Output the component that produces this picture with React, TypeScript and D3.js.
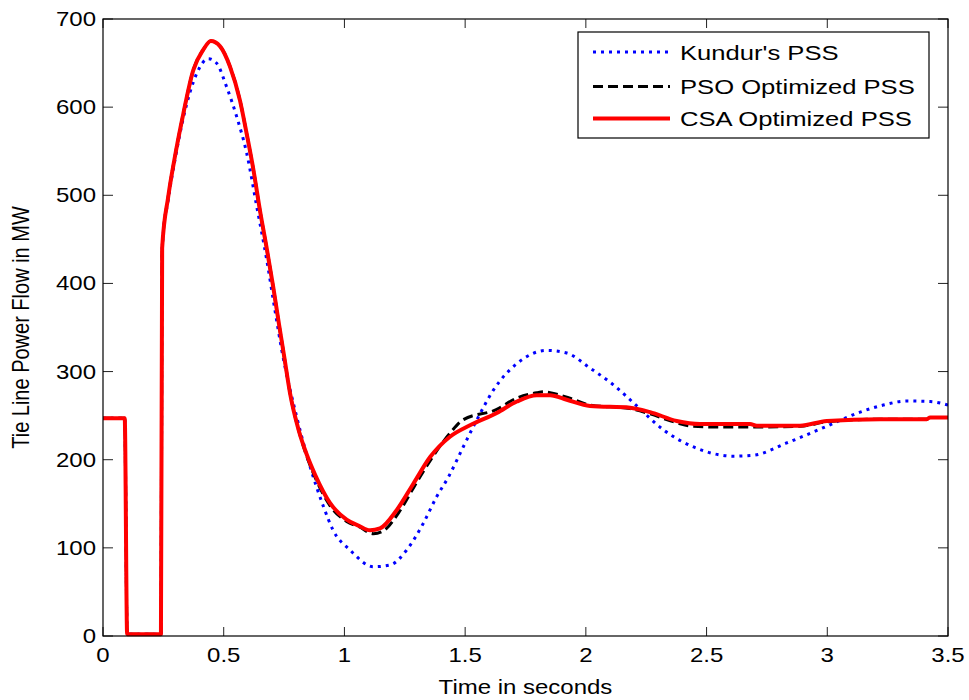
import React from "react";
import * as d3 from "d3";

// ---- data ----
const csaT = [0, 0.09, 0.1, 0.24, 0.245, 0.27, 0.298, 0.333, 0.374, 0.415, 0.447, 0.485, 0.526, 0.567, 0.595, 0.623, 0.65, 0.678, 0.705, 0.73, 0.75, 0.775, 0.81, 0.845, 0.88, 0.94, 1.009, 1.06, 1.106, 1.147, 1.217, 1.286, 1.355, 1.437, 1.52, 1.631, 1.714, 1.797, 1.852, 1.921, 2.017, 2.183, 2.266, 2.376, 2.473, 2.68, 2.708, 2.887, 2.998, 3.219, 3.412, 3.426, 3.5];
const csaV = [247, 247, 2, 2, 440, 498, 544, 593, 642, 665, 675, 669, 646, 608, 570, 529, 483, 440, 396, 352, 318, 275, 234, 205, 182, 151, 132, 125, 120, 122, 143, 173, 203, 226, 239, 253, 266, 273, 273, 268, 261, 259, 254, 244, 240.5, 240.5, 238.6, 238.6, 244, 246, 246, 248, 248];

const psoT = [0, 0.09, 0.1, 0.24, 0.245, 0.27, 0.298, 0.333, 0.374, 0.415, 0.447, 0.485, 0.526, 0.567, 0.595, 0.623, 0.65, 0.678, 0.705, 0.73, 0.75, 0.775, 0.81, 0.845, 0.88, 0.94, 1.009, 1.06, 1.12, 1.16, 1.225, 1.29, 1.36, 1.437, 1.49, 1.631, 1.714, 1.797, 1.824, 1.852, 1.921, 2.017, 2.183, 2.266, 2.376, 2.44, 2.55, 2.68, 2.887, 2.998, 3.219, 3.412, 3.426, 3.5];
const psoV = [247, 247, 2, 2, 440, 498, 544, 593, 642, 665, 675, 669, 646, 608, 570, 529, 483, 440, 396, 352, 318, 275, 234, 203, 179, 148, 130, 124, 116, 119, 140, 170, 201, 230, 245, 257, 270, 276, 277, 276, 271, 262, 258, 252, 242, 238, 237, 237, 238, 243, 246, 246, 248, 248];

const kunT = [0, 0.09, 0.1, 0.24, 0.245, 0.27, 0.298, 0.333, 0.388, 0.436, 0.47, 0.512, 0.554, 0.595, 0.637, 0.678, 0.712, 0.74, 0.802, 0.858, 0.913, 0.953, 1.023, 1.12, 1.19, 1.258, 1.327, 1.382, 1.43, 1.493, 1.548, 1.617, 1.714, 1.838, 1.921, 2.017, 2.114, 2.211, 2.321, 2.459, 2.611, 2.694, 2.832, 2.998, 3.136, 3.232, 3.329, 3.426, 3.5];
const kunV = [247, 247, 2, 2, 440, 495, 540, 588, 638, 655, 650, 623, 589, 548, 487, 427, 370, 325, 249, 192, 147, 120, 97.6, 78.6, 80.6, 97.6, 128, 158, 180, 215, 245, 279, 309, 324, 321, 304, 285, 261, 234, 213, 204, 205, 219, 238, 254, 262, 266.6, 266, 262];

const xTicks = [0, 0.5, 1, 1.5, 2, 2.5, 3, 3.5];
const xTickLabels = ["0", "0.5", "1", "1.5", "2", "2.5", "3", "3.5"];
const yTicks = [0, 100, 200, 300, 400, 500, 600, 700];
const yTickLabels = ["0", "100", "200", "300", "400", "500", "600", "700"];

const seriesNames = ["Kundur's PSS", "PSO Optimized PSS", "CSA Optimized PSS"];
const xTitle = "Time in seconds";
const yTitle = "Tie Line Power Flow in MW";

const W = 969;
const H = 700;
const L = 103, R = 948, T = 19, B = 636;
const FONT = "'Liberation Sans', Arial, Helvetica, sans-serif";
const SX = 1.2;

export default function App() {
  const x = d3.scaleLinear().domain([0, 3.5]).range([L, R]);
  const y = d3.scaleLinear().domain([0, 700]).range([B, T]);
  const line = d3
    .line<[number, number]>()
    .x((d) => x(d[0]))
    .y((d) => y(d[1]))
    .curve(d3.curveMonotoneX);

  const zip = (a: number[], b: number[]) => a.map((t, i) => [t, b[i]] as [number, number]);

  const series = [
    { name: seriesNames[0], d: line(zip(kunT, kunV)) || "", color: "#0000ff", w: 3, dash: "3,5" },
    { name: seriesNames[1], d: line(zip(psoT, psoV)) || "", color: "#000000", w: 3, dash: "10,5" },
    { name: seriesNames[2], d: line(zip(csaT, csaV)) || "", color: "#ff0000", w: 4, dash: undefined as string | undefined },
  ];

  const legendY = [52, 86.5, 118.5];

  return (
    <svg
      width={W}
      height={H}
      style={{ position: "absolute", left: 0, top: 0, background: "#fff" }}
      fontFamily={FONT}
    >
      <rect x={0} y={0} width={W} height={H} fill="#fff" />
      <defs>
        <clipPath id="plotclip">
          <rect x={L} y={T - 4} width={R - L} height={B - T + 8} />
        </clipPath>
      </defs>

      {/* ticks */}
      {xTicks.map((t, i) => (
        <g key={"xt" + i} stroke="#222" strokeWidth={1}>
          <line x1={x(t)} x2={x(t)} y1={B} y2={B - 9} />
          <line x1={x(t)} x2={x(t)} y1={T} y2={T + 9} />
        </g>
      ))}
      {yTicks.map((v, i) => (
        <g key={"yt" + i} stroke="#222" strokeWidth={1}>
          <line x1={L} x2={L + 10} y1={y(v)} y2={y(v)} />
          <line x1={R} x2={R - 10} y1={y(v)} y2={y(v)} />
        </g>
      ))}

      {/* data */}
      <g clipPath="url(#plotclip)" fill="none">
        {series.map((s, i) => (
          <path
            key={i}
            d={s.d}
            stroke={s.color}
            strokeWidth={s.w}
            strokeDasharray={s.dash}
            strokeLinejoin="round"
          />
        ))}
      </g>

      {/* frame */}
      <rect x={L} y={T} width={R - L} height={B - T} fill="none" stroke="#000" strokeWidth={1.2} />

      {/* tick labels */}
      {xTicks.map((t, i) => (
        <text
          key={"xl" + i}
          transform={`translate(${x(t)},662) scale(${SX},1)`}
          textAnchor="middle"
          fontSize={20}
          fill="#000"
        >
          {xTickLabels[i]}
        </text>
      ))}
      {yTicks.map((v, i) => (
        <text
          key={"yl" + i}
          transform={`translate(96,${y(v) + 7}) scale(${SX},1)`}
          textAnchor="end"
          fontSize={20}
          fill="#000"
        >
          {yTickLabels[i]}
        </text>
      ))}

      {/* axis titles */}
      <text
        transform={`translate(${(L + R) / 2},694) scale(${SX},1)`}
        textAnchor="middle"
        fontSize={20}
        fill="#000"
      >
        {xTitle}
      </text>
      <text
        transform={`translate(29,${(T + B) / 2}) rotate(-90) scale(1,${SX})`}
        textAnchor="middle"
        fontSize={20}
        fill="#000"
      >
        {yTitle}
      </text>

      {/* legend */}
      <rect x={578} y={32} width={351} height={106} fill="#fff" stroke="#000" strokeWidth={1.2} />
      {series.map((s, i) => (
        <g key={"lg" + i}>
          <line
            x1={593}
            x2={670}
            y1={legendY[i]}
            y2={legendY[i]}
            stroke={s.color}
            strokeWidth={s.w}
            strokeDasharray={s.dash}
          />
          <text
            transform={`translate(680,${legendY[i] + 7.5}) scale(1.22,1)`}
            fontSize={21}
            fill="#000"
          >
            {s.name}
          </text>
        </g>
      ))}
    </svg>
  );
}
